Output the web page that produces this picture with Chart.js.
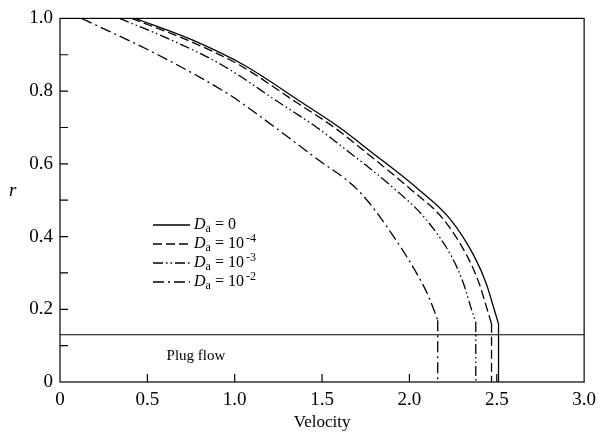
<!DOCTYPE html>
<html>
<head>
<meta charset="utf-8">
<script src="https://cdn.jsdelivr.net/npm/chart.js@4"></script>
<style>
  html, body { margin: 0; padding: 0; background: #fff; }
  #wrap { width: 603px; height: 441px; }
</style>
</head>
<body>
<div id="wrap"><canvas id="chart" width="603" height="441"></canvas></div>
<script>
// velocity profiles, read as (velocity, r) pairs; the last pair of each is the drop to the axis
const daExp = ['0', '-4', '-3', '-2'];
const vDa0 = [0.43, 0.76, 1.055, 1.38, 1.60, 1.778, 2.054, 2.23, 2.375, 2.44, 2.485, 2.51, 2.51];
const rDa0 = [1.0, 0.94, 0.871, 0.77, 0.70, 0.634, 0.529, 0.45, 0.342, 0.27, 0.20, 0.16, 0];
const vDa4 = [0.41, 0.73, 1.03, 1.35, 1.57, 1.745, 2.01, 2.19, 2.335, 2.40, 2.445, 2.47, 2.47];
const rDa4 = [1.0, 0.94, 0.871, 0.77, 0.70, 0.634, 0.529, 0.45, 0.342, 0.27, 0.20, 0.16, 0];
const vDa3 = [0.34, 0.64, 0.93, 1.25, 1.47, 1.65, 1.92, 2.09, 2.245, 2.31, 2.355, 2.38, 2.38];
const rDa3 = [1.0, 0.94, 0.871, 0.77, 0.70, 0.634, 0.529, 0.45, 0.342, 0.27, 0.20, 0.165, 0];
const vDa2 = [0.124, 0.56, 0.97, 1.084, 1.464, 1.711, 1.90, 2.054, 2.11, 2.162, 2.162];
const rDa2 = [1.0, 0.90, 0.79, 0.752, 0.616, 0.525, 0.407, 0.288, 0.235, 0.17, 0];
const plugR = 0.13;
const xTickLabels = ['0', '0.5', '1.0', '1.5', '2.0', '2.5', '3.0'];
const yTickLabels = ['0', '0.2', '0.4', '0.6', '0.8', '1.0'];

const dashes = [[], [9, 4], [10, 3, 1.5, 3, 1.5, 3], [11, 4, 2, 4]];
const serif = '"Liberation Serif", "Times New Roman", serif';

function pts(v, r) { return v.map((x, i) => ({ x: x, y: r[i] })); }

const series = [[vDa0, rDa0], [vDa4, rDa4], [vDa3, rDa3], [vDa2, rDa2]];

const datasets = [];
series.forEach((s, i) => {
  const all = pts(s[0], s[1]);
  const base = {
    showLine: true, borderColor: '#000', borderWidth: 1.3,
    borderDash: dashes[i], pointRadius: 0, fill: false
  };
  // smooth profile
  datasets.push(Object.assign({ label: 'Da ' + daExp[i], data: all.slice(0, -1),
    cubicInterpolationMode: 'monotone' }, base));
  // straight drop through the plug
  datasets.push(Object.assign({ label: 'Da ' + daExp[i] + ' plug', data: all.slice(-2),
    tension: 0 }, base));
});

// frame, inward ticks, plug line, legend and free labels
const decor = {
  id: 'decor',
  afterDraw(chart) {
    const ctx = chart.ctx, a = chart.chartArea;
    const xs = chart.scales.x, ys = chart.scales.y;
    ctx.save();
    ctx.strokeStyle = '#000';
    ctx.lineWidth = 1.2;
    ctx.setLineDash([]);
    ctx.strokeRect(a.left, a.top, a.right - a.left, a.bottom - a.top);

    ctx.beginPath();
    for (let i = 1; i < 10; i++) {
      const y = ys.getPixelForValue(i / 10);
      ctx.moveTo(a.left, y); ctx.lineTo(a.left + 8, y);
    }
    for (let i = 1; i < 6; i++) {
      const x = xs.getPixelForValue(i / 2);
      ctx.moveTo(x, a.bottom); ctx.lineTo(x, a.bottom - 8);
    }
    const py = ys.getPixelForValue(plugR);
    ctx.moveTo(a.left, py); ctx.lineTo(a.right, py);
    ctx.stroke();

    ctx.fillStyle = '#000';
    ctx.textBaseline = 'middle';
    ctx.font = '15px ' + serif;
    ctx.fillText('Plug flow', xs.getPixelForValue(0.61), ys.getPixelForValue(0.071));

    ctx.font = 'italic 19px ' + serif;
    ctx.fillText('r', 9, ys.getPixelForValue(0.525));

    // legend
    const lx = 153, ly = 225, step = 19;
    daExp.forEach((e, i) => {
      const y = ly + i * step;
      ctx.lineWidth = 1.3;
      ctx.setLineDash(dashes[i]);
      ctx.beginPath();
      ctx.moveTo(lx, y); ctx.lineTo(lx + 37, y);
      ctx.stroke();
      ctx.setLineDash([]);
      let x = lx + 41;
      ctx.font = 'italic 16px ' + serif;
      ctx.fillText('D', x, y);
      x += ctx.measureText('D').width;
      ctx.font = '12px ' + serif;
      ctx.fillText('a', x, y + 4);
      x += ctx.measureText('a').width + 4;
      ctx.font = '16px ' + serif;
      if (i === 0) {
        ctx.fillText('= 0', x, y);
      } else {
        ctx.fillText('= 10', x, y);
        x += ctx.measureText('= 10').width + 2;
        ctx.font = '12px ' + serif;
        ctx.fillText(e, x, y - 5);
      }
    });
    ctx.restore();
  }
};

new Chart(document.getElementById('chart'), {
  type: 'scatter',
  data: { datasets: datasets },
  options: {
    responsive: false,
    animation: false,
    layout: { padding: { top: 16, right: 17, left: 0, bottom: 0 } },
    plugins: { legend: { display: false }, tooltip: { enabled: false } },
    scales: {
      x: {
        type: 'linear', min: 0, max: 3,
        afterFit(s) { s.height = 59; },
        grid: { display: false, drawTicks: false },
        border: { display: false },
        ticks: {
          stepSize: 0.5, autoSkip: false, maxRotation: 0, padding: 7,
          color: '#000', font: { family: serif, size: 19 },
          callback: (v, i) => xTickLabels[i]
        },
        title: {
          display: true, text: 'Velocity', color: '#000',
          font: { family: serif, size: 17 }, padding: { top: 0, bottom: 8 }
        }
      },
      y: {
        type: 'linear', min: 0, max: 1,
        afterFit(s) { s.width = 60; },
        grid: { display: false, drawTicks: false },
        border: { display: false },
        ticks: {
          stepSize: 0.1, autoSkip: false, padding: 7,
          color: '#000', font: { family: serif, size: 19 },
          callback: (v, i) => (i % 2 === 0 ? yTickLabels[i / 2] : '')
        }
      }
    }
  },
  plugins: [decor]
});
</script>
</body>
</html>
